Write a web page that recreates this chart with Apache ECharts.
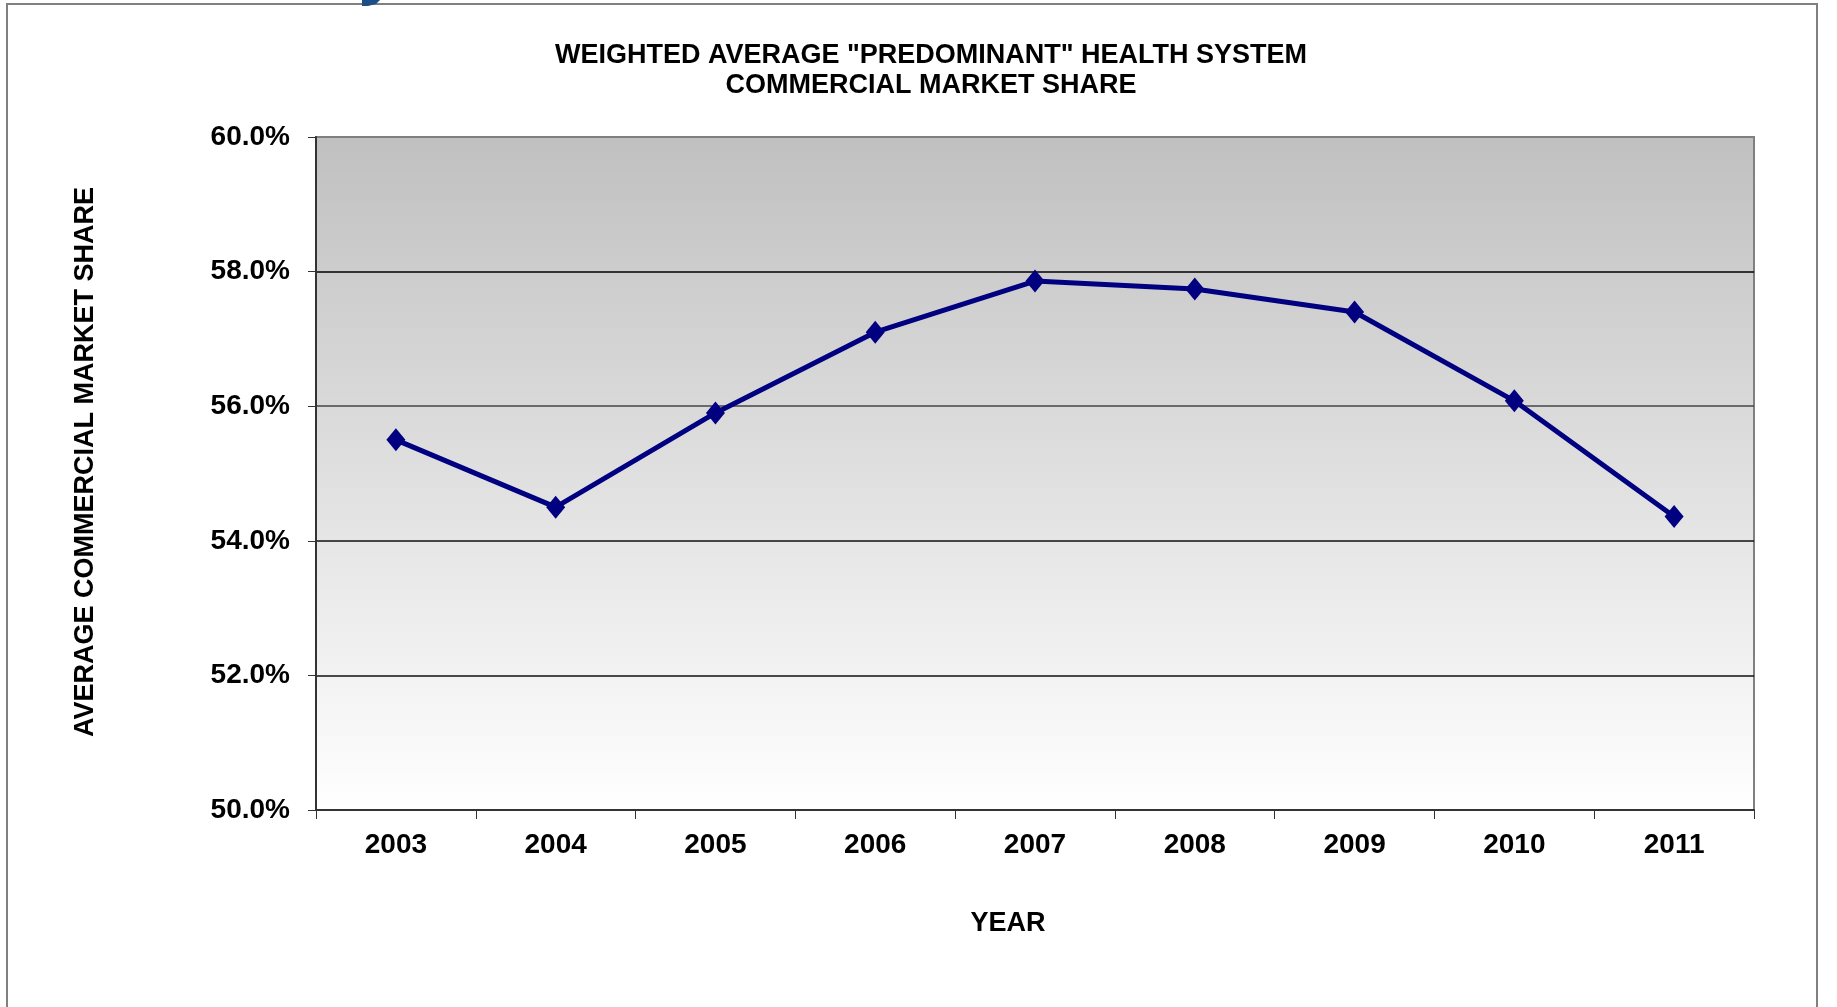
<!DOCTYPE html>
<html>
<head>
<meta charset="utf-8">
<script src="https://cdn.jsdelivr.net/npm/echarts@6/dist/echarts.min.js"></script>
<style>
  html, body { margin: 0; padding: 0; background: #ffffff; }
  #chart { width: 1837px; height: 1007px; }
</style>
</head>
<body>
<div id="chart"></div>
<script>
// Weighted average commercial market share of the predominant health system, by year
var years = ['2003', '2004', '2005', '2006', '2007', '2008', '2009', '2010', '2011'];
var marketShare = [55.5, 54.5, 55.9, 57.1, 57.86, 57.74, 57.4, 56.08, 54.36];
var yTicks = { min: 50, max: 60, step: 2 };

var titleText = 'WEIGHTED AVERAGE "PREDOMINANT" HEALTH SYSTEM\nCOMMERCIAL MARKET SHARE';
var xTitle = 'YEAR';
var yTitle = 'AVERAGE COMMERCIAL MARKET SHARE';

var FONT = '"Liberation Sans", Arial, Helvetica, sans-serif';

var chart = echarts.init(document.getElementById('chart'), null, { renderer: 'canvas' });

var option = {
  animation: false,
  backgroundColor: '#ffffff',
  title: {
    text: titleText,
    left: 931,
    top: 41,
    textAlign: 'center',
    padding: 0,
    textStyle: {
      fontFamily: FONT,
      fontWeight: 'bold',
      fontSize: 27,
      lineHeight: 30,
      color: '#000000'
    }
  },
  grid: {
    left: 316,
    right: 83,
    top: 137,
    bottom: 197,
    show: true,
    borderColor: '#808080',
    borderWidth: 2,
    backgroundColor: new echarts.graphic.LinearGradient(0, 0, 0, 1, [
      { offset: 0, color: '#c0c0c0' },
      { offset: 1, color: '#ffffff' }
    ])
  },
  xAxis: {
    type: 'category',
    data: years,
    boundaryGap: true,
    axisLine: { show: true, lineStyle: { color: '#333333', width: 2 } },
    axisTick: { show: true, inside: false, length: 9, alignWithLabel: false, lineStyle: { color: '#333333', width: 1 } },
    axisLabel: {
      margin: 21,
      fontFamily: FONT,
      fontWeight: 'bold',
      fontSize: 28,
      color: '#000000'
    },
    splitLine: { show: false }
  },
  yAxis: {
    type: 'value',
    min: yTicks.min,
    max: yTicks.max,
    interval: yTicks.step,
    axisLine: { show: true, lineStyle: { color: '#333333', width: 2 } },
    axisTick: { show: true, inside: false, length: 8, lineStyle: { color: '#333333', width: 1 } },
    axisLabel: {
      margin: 26,
      fontFamily: FONT,
      fontWeight: 'bold',
      fontSize: 28,
      color: '#000000',
      formatter: function (v) { return v.toFixed(1) + '%'; }
    },
    splitLine: {
      show: true,
      lineStyle: {
        color: ['#333333', '#111111', '#111111', '#444444', '#000000', '#808080'],
        width: 1.5
      }
    }
  },
  graphic: [
    {
      type: 'rect',
      silent: true,
      z: -10,
      shape: { x: 7, y: 4, width: 1810, height: 1020 },
      style: { fill: 'none', stroke: '#808080', lineWidth: 2 }
    },
    {
      type: 'polygon',
      silent: true,
      shape: { points: [[362, 0], [380, 0], [376, 4], [368, 6], [362, 6]] },
      style: { fill: '#1b4f86' }
    },
    {
      type: 'text',
      silent: true,
      x: 1008,
      y: 924,
      style: {
        text: xTitle,
        font: 'bold 27px ' + FONT,
        fill: '#000000',
        textAlign: 'center',
        textVerticalAlign: 'middle'
      }
    },
    {
      type: 'text',
      silent: true,
      x: 86,
      y: 462,
      rotation: Math.PI / 2,
      style: {
        text: yTitle,
        font: 'bold 27px ' + FONT,
        fill: '#000000',
        textAlign: 'center',
        textVerticalAlign: 'middle'
      }
    }
  ],
  series: [
    {
      type: 'line',
      data: marketShare,
      symbol: 'diamond',
      symbolSize: [19, 23],
      showSymbol: true,
      lineStyle: { color: '#000080', width: 5 },
      itemStyle: { color: '#000080' },
      z: 5
    }
  ]
};

chart.setOption(option);
</script>
</body>
</html>
